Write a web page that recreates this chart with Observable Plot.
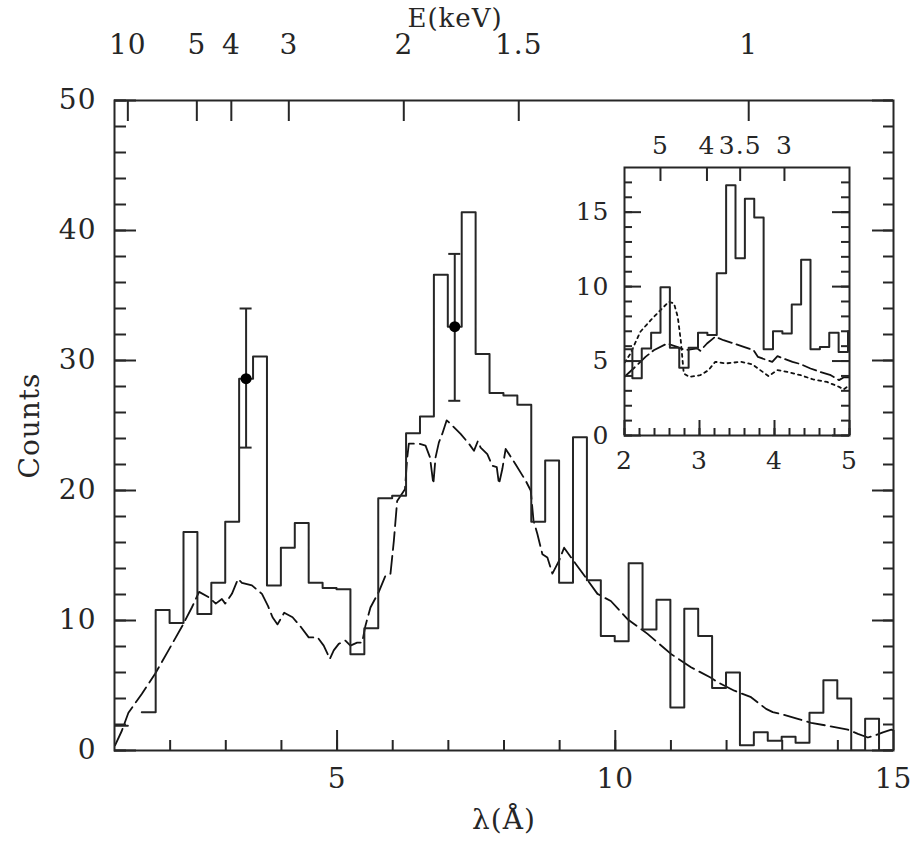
<!DOCTYPE html>
<html><head><meta charset="utf-8">
<script src="https://cdn.jsdelivr.net/npm/d3@7"></script>
<script src="https://cdn.jsdelivr.net/npm/@observablehq/plot@0.6"></script>
<style>
html,body{margin:0;padding:0;background:#fff;}
#wrap{position:relative;width:916px;height:843px;}
#inset{position:absolute;left:564px;top:107px;}
svg text{font-family:"DejaVu Serif",serif;letter-spacing:1px;}
</style></head><body><div id="wrap"><div id="main"></div><div id="inset"></div></div>
<script>
// ---------- data ----------
const HC = 12.398; // keV·Å, lambda = HC / E

// main histogram: bins of 0.25 Å starting at 0.99 Å (null = no bin drawn)
const mainEdge0 = 0.99, mainBinWidth = 0.25;
const mainCounts = [1.9, null, 2.95, 10.8, 9.8, 16.8, 10.5, 12.9, 17.6, 28.6, 30.3, 12.7, 15.6, 17.5, 12.9, 12.5,
  12.4, 7.4, 9.4, 19.4, 19.6, 24.4, 25.7, 36.6, 32.6, 41.4, 30.5, 27.5, 27.3, 26.6, 17.6, 22.3, 12.9, 24.1, 13.1,
  8.8, 8.4, 14.4, 9.3, 11.6, 3.3, 10.9, 8.8, 4.8, 6.0, 0.4, 1.4, 0.75, 1.05, 0.6, 2.9, 5.4, 4.0, 0, 2.45, 0];

// error-bar points
const errLambda = [3.365, 7.115];
const errValue = [28.6, 32.6];
const errLow = [23.3, 26.9];
const errHigh = [34.0, 38.2];

// main model (dashed)
const modelLambda = [1.01, 1.13, 1.25, 1.49, 1.73, 1.97, 2.22, 2.39, 2.52, 2.69, 2.82, 2.93, 2.99, 3.11, 3.22, 3.29,
  3.47, 3.65, 3.76, 3.84, 3.93, 4.05, 4.2, 4.35, 4.49, 4.65, 4.76, 4.87, 4.94, 5.03, 5.15, 5.24, 5.36, 5.45, 5.51,
  5.6, 5.75, 5.87, 5.96, 6.02, 6.08, 6.22, 6.26, 6.29, 6.47, 6.59, 6.67, 6.73, 6.77, 6.83, 6.89, 6.97, 7.07, 7.22,
  7.37, 7.46, 7.53, 7.58, 7.7, 7.79, 7.87, 7.91, 7.97, 8.03, 8.21, 8.39, 8.48, 8.53, 8.6, 8.69, 8.78, 8.87, 8.99,
  9.08, 9.29, 9.47, 9.68, 9.92, 10.22, 10.58, 11.0, 11.36, 11.72, 11.84, 12.14, 12.44, 12.71, 12.83, 12.98, 13.28,
  13.52, 13.82, 14.18, 14.36, 14.54, 14.66, 14.81, 14.96, 15.0];
const modelCounts = [0.4, 1.5, 2.9, 4.35, 5.9, 7.7, 9.6, 11.0, 12.2, 11.8, 11.3, 11.65, 11.3, 12.05, 13.2, 12.9,
  12.7, 12.05, 11.1, 10.25, 9.7, 10.6, 10.25, 9.5, 8.7, 8.7, 8.07, 7.05, 7.7, 8.2, 8.45, 8.07, 8.3, 8.3, 9.6,
  11.0, 12.2, 13.45, 13.6, 16.1, 19.2, 20.1, 22.5, 23.6, 23.6, 23.45, 22.55, 20.5, 22.55, 23.7, 24.35, 25.4, 25.0, 24.35,
  23.6, 23.05, 23.8, 23.3, 22.8, 21.9, 21.8, 20.5, 21.65, 23.2, 22.0, 20.75, 20.0, 17.7, 16.65, 15.1, 14.85, 13.6, 14.6,
  15.6, 14.35, 13.3, 12.05, 11.5, 10.1, 8.97, 7.43, 6.4, 5.6, 5.25, 4.6, 4.1, 3.2, 2.95, 2.8, 2.43,
  2.13, 1.9, 1.6, 1.28, 1.0, 1.15, 1.4, 1.6, 1.55];

// inset histogram: bins of 0.125 Å starting at 1.98 Å
const insetEdge0 = 1.98, insetBinWidth = 0.125;
const insetCounts = [5.8, 3.85, 5.85, 6.9, 9.95, 5.9, 4.55, 5.9, 6.9, 6.75, 10.9, 16.8, 11.9, 15.9, 14.65,
  5.8, 7.0, 6.85, 8.8, 11.8, 5.8, 5.95, 6.9, 5.6, 7.0];

// inset dashed model
const insetDashLambda = [2.0, 2.12, 2.28, 2.39, 2.57, 2.70, 2.81, 2.97, 3.01, 3.10, 3.21, 3.32, 3.46, 3.59, 3.72,
  3.78, 3.90, 3.97, 4.04, 4.12, 4.24, 4.35, 4.48, 4.61, 4.75, 4.86, 4.92, 5.0];
const insetDashCounts = [3.94, 4.5, 5.28, 5.73, 6.18, 5.95, 5.73, 5.85, 5.69, 6.18, 6.63, 6.4, 6.18, 5.95, 5.73,
  5.28, 5.06, 4.95, 5.33, 5.17, 4.95, 4.79, 4.5, 4.27, 4.05, 3.72, 3.9, 3.9];

// inset dotted model
const insetDotLambda = [2.0, 2.08, 2.21, 2.35, 2.48, 2.59, 2.66, 2.71, 2.75, 2.79, 2.86, 3.01, 3.12, 3.21, 3.35,
  3.55, 3.70, 3.81, 3.92, 4.04, 4.17, 4.35, 4.52, 4.70, 4.86, 4.92, 5.0];
const insetDotCounts = [4.88, 5.51, 6.96, 7.75, 8.42, 8.98, 8.87, 7.97, 6.4, 4.17, 3.94, 4.05, 4.39, 4.95, 4.84,
  4.95, 4.79, 4.39, 3.99, 4.39, 4.27, 4.05, 3.76, 3.6, 3.27, 3.09, 3.38];

// tick labels
const mainXTicks = [5, 10, 15];
const mainYTicks = [0, 10, 20, 30, 40, 50];
const mainETicks = [10, 5, 4, 3, 2, 1.5, 1];
const insetXTicks = [2, 3, 4, 5];
const insetYTicks = [0, 5, 10, 15];
const insetETicks = [5, 4, 3.5, 3];

// ---------- helpers ----------
function histPoints(e0, bw, counts) {
  const pts = []; let seg = 0;
  counts.forEach((c, j) => {
    if (c == null) { seg++; return; }
    pts.push({x: e0 + bw * j, y: c, seg}, {x: e0 + bw * (j + 1), y: c, seg});
  });
  return pts;
}
const INK = "#262626";
const FONT = "DejaVu Serif, serif";

// ---------- main chart ----------
const W = 916, H = 843, mL = 114, mR = 23, mT = 100, mB = 93;
const iW = W - mL - mR, iH = H - mT - mB;
const FS = 28;

const mainHist = histPoints(mainEdge0, mainBinWidth, mainCounts);
const model = modelLambda.map((x, i) => ({x, y: modelCounts[i]}));
const errs = errLambda.map((x, i) => ({x, y: errValue[i], lo: errLow[i], hi: errHigh[i]}));

const main = Plot.plot({
  width: W, height: H,
  marginLeft: mL, marginRight: mR, marginTop: mT, marginBottom: mB,
  x: {domain: [1, 15], axis: null},
  y: {domain: [0, 50], axis: null},
  style: {fontFamily: FONT, background: "white", color: INK},
  marks: [
    Plot.line(model, {x: "x", y: "y", stroke: "#111", strokeWidth: 1.8, strokeDasharray: "18,6", clip: true}),
    Plot.line(mainHist, {x: "x", y: "y", z: "seg", stroke: INK, strokeWidth: 2, clip: true}),
    Plot.ruleX(errs, {x: "x", y1: "lo", y2: "hi", stroke: INK, strokeWidth: 2}),
    Plot.ruleY(errs, {y: "lo", x1: "x", x2: "x", insetLeft: -6, insetRight: -6, stroke: INK, strokeWidth: 2}),
    Plot.ruleY(errs, {y: "hi", x1: "x", x2: "x", insetLeft: -6, insetRight: -6, stroke: INK, strokeWidth: 2}),
    Plot.dot(errs, {x: "x", y: "y", r: 5.5, fill: "#000"}),
    Plot.frame({stroke: INK, strokeWidth: 2}),
    // bottom ticks
    Plot.tickX(d3.range(2, 15), {x: d => d, insetTop: iH - 10, stroke: INK, strokeWidth: 2}),
    Plot.tickX(mainXTicks, {x: d => d, insetTop: iH - 20, stroke: INK, strokeWidth: 2}),
    // top energy ticks
    Plot.tickX(mainETicks, {x: e => HC / e, insetBottom: iH - 21, stroke: INK, strokeWidth: 2}),
    // left / right ticks
    Plot.tickY(d3.range(0, 51, 2), {y: d => d, insetRight: iW - 12, stroke: INK, strokeWidth: 2}),
    Plot.tickY(mainYTicks, {y: d => d, insetRight: iW - 22, stroke: INK, strokeWidth: 2}),
    Plot.tickY(d3.range(0, 51, 2), {y: d => d, insetLeft: iW - 10, stroke: INK, strokeWidth: 2}),
    Plot.tickY(mainYTicks, {y: d => d, insetLeft: iW - 21, stroke: INK, strokeWidth: 2}),
    // tick labels
    Plot.text(mainXTicks, {x: d => d, text: d => String(d), frameAnchor: "bottom", dy: 29, lineAnchor: "middle", fontSize: FS, fill: INK}),
    Plot.text(mainYTicks, {y: d => d, text: d => String(d), frameAnchor: "left", dx: -18, textAnchor: "end", lineAnchor: "middle", fontSize: FS, fill: INK}),
    Plot.text(mainETicks, {x: e => HC / e, text: e => String(e), frameAnchor: "top", dy: -55, lineAnchor: "middle", fontSize: FS, fill: INK}),
    // axis titles
    Plot.text(["E(keV)"], {text: d => d, frameAnchor: "top", dx: -49, dy: -82, lineAnchor: "middle", fontSize: 26, fill: INK}),
    Plot.text(["λ(Å)"], {text: d => d, frameAnchor: "bottom", dy: 70, lineAnchor: "middle", fontSize: FS, fill: INK}),
    Plot.text(["Counts"], {text: d => d, frameAnchor: "left", dx: -84, rotate: -90, textAnchor: "middle", lineAnchor: "middle", fontSize: FS, fill: INK})
  ]
});
document.getElementById("main").appendChild(main);

// ---------- inset ----------
const w2 = 225, h2 = 268, mL2 = 60, mT2 = 60, mR2 = 10, mB2 = 45;
const FS2 = 25;
const insetHist = histPoints(insetEdge0, insetBinWidth, insetCounts);
const insetDash = insetDashLambda.map((x, i) => ({x, y: insetDashCounts[i]}));
const insetDot = insetDotLambda.map((x, i) => ({x, y: insetDotCounts[i]}));

const inset = Plot.plot({
  width: mL2 + w2 + mR2, height: mT2 + h2 + mB2,
  marginLeft: mL2, marginRight: mR2, marginTop: mT2, marginBottom: mB2,
  x: {domain: [2, 5], axis: null},
  y: {domain: [0, 18], axis: null},
  style: {fontFamily: FONT, background: "transparent", color: INK},
  marks: [
    Plot.line(insetDot, {x: "x", y: "y", stroke: "#111", strokeWidth: 1.8, strokeDasharray: "3,4", clip: true}),
    Plot.line(insetDash, {x: "x", y: "y", stroke: "#111", strokeWidth: 1.8, strokeDasharray: "14,5", clip: true}),
    Plot.line(insetHist, {x: "x", y: "y", z: "seg", stroke: INK, strokeWidth: 2, clip: true}),
    Plot.frame({stroke: INK, strokeWidth: 2}),
    Plot.tickX(d3.range(2, 5.01, 0.2), {x: d => d, insetTop: h2 - 7, stroke: INK, strokeWidth: 2}),
    Plot.tickX(insetXTicks, {x: d => d, insetTop: h2 - 15, stroke: INK, strokeWidth: 2}),
    Plot.tickX(insetETicks, {x: e => HC / e, insetBottom: h2 - 14, stroke: INK, strokeWidth: 2}),
    Plot.tickY(d3.range(0, 18), {y: d => d, insetRight: w2 - 8, stroke: INK, strokeWidth: 2}),
    Plot.tickY(insetYTicks, {y: d => d, insetRight: w2 - 17, stroke: INK, strokeWidth: 2}),
    Plot.tickY(d3.range(0, 18), {y: d => d, insetLeft: w2 - 8, stroke: INK, strokeWidth: 2}),
    Plot.tickY(insetYTicks, {y: d => d, insetLeft: w2 - 17, stroke: INK, strokeWidth: 2}),
    Plot.text(insetXTicks, {x: d => d, text: d => String(d), frameAnchor: "bottom", dy: 25, lineAnchor: "middle", fontSize: FS2, fill: INK}),
    Plot.text(insetYTicks, {y: d => d, text: d => String(d), frameAnchor: "left", dx: -15, textAnchor: "end", lineAnchor: "middle", fontSize: FS2, fill: INK}),
    Plot.text(insetETicks, {x: e => HC / e, text: e => String(e), frameAnchor: "top", dy: -22, lineAnchor: "middle", fontSize: FS2, fill: INK})
  ]
});
document.getElementById("inset").appendChild(inset);
</script></body></html>
